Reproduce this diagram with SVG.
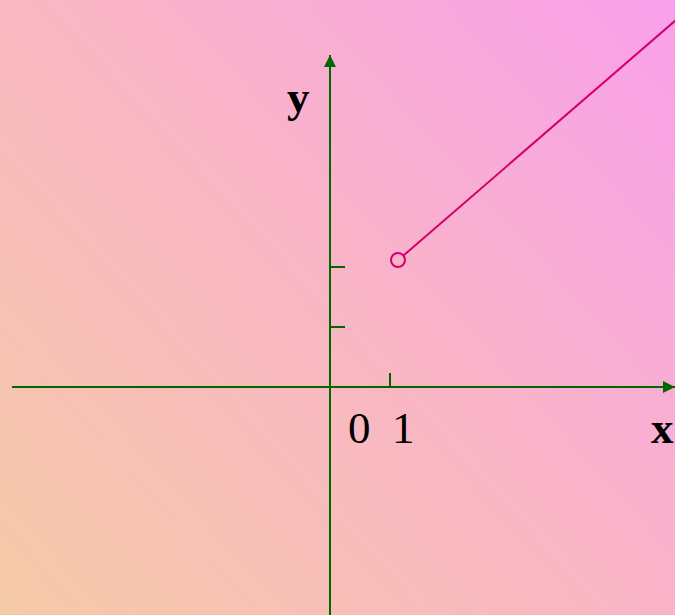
<svg xmlns="http://www.w3.org/2000/svg" width="675" height="615" viewBox="0 0 675 615">
<defs>
<linearGradient id="bg" x1="0" y1="615" x2="675" y2="0" gradientUnits="userSpaceOnUse">
<stop offset="0" stop-color="#F5CAA6"/>
<stop offset="0.5" stop-color="#F9B6C4"/>
<stop offset="1" stop-color="#F9A0EC"/>
</linearGradient>
<marker id="arr" viewBox="0 0 10 10" refX="10" refY="5" markerWidth="12" markerHeight="12" markerUnits="userSpaceOnUse" orient="auto">
<path d="M0,0 L10,5 L0,10 Z" fill="#006600"/>
</marker>
<style>
.ax{stroke:#006600;stroke-width:2;fill:none}
.lbl{font-family:"Liberation Serif",serif;font-size:45px;fill:#000}
.b{font-weight:bold}
</style>
</defs>
<rect width="675" height="615" fill="url(#bg)"/>
<g id="connectors">
<line class="ax" x1="12" y1="387" x2="675" y2="387" marker-end="url(#arr)"/>
<line class="ax" x1="330" y1="615" x2="330" y2="55" marker-end="url(#arr)"/>
<line class="ax" x1="330" y1="267" x2="345" y2="267"/>
<line class="ax" x1="330" y1="327" x2="345" y2="327"/>
<line class="ax" x1="390" y1="373" x2="390" y2="387"/>
</g>
<g id="graph">
<circle cx="398" cy="260" r="7" fill="none" stroke="#D4006A" stroke-width="2"/>
<line x1="403.5" y1="255.5" x2="676" y2="20" stroke="#D4006A" stroke-width="2"/>
</g>
<g id="labels">
<text class="lbl b" x="287" y="112">y</text>
<text class="lbl" x="348" y="443">0</text>
<text class="lbl" x="392" y="443">1</text>
<text class="lbl b" x="651" y="443">x</text>
</g>
</svg>
